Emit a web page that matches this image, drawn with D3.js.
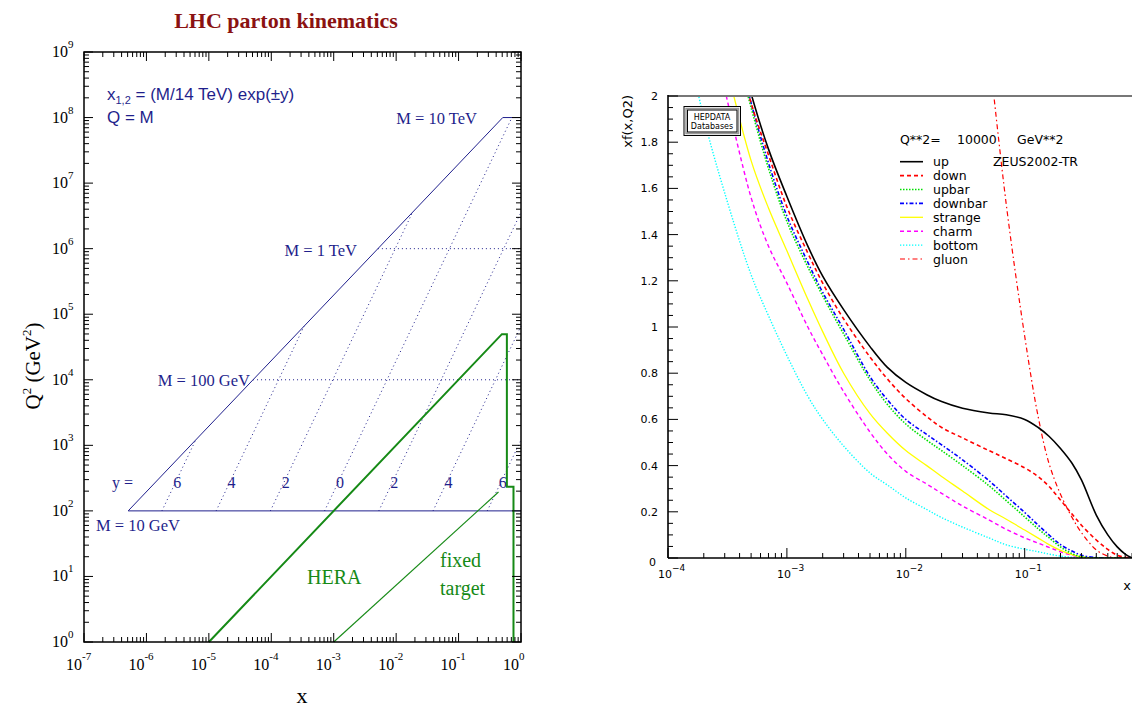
<!DOCTYPE html>
<html>
  <head>
    <script src="https://d3js.org/d3.v7.min.js"></script>
    <style>
      body { margin: 0; background: #fff; }
      .serif { font-family: "Liberation Serif", "Times New Roman", serif; }
      .sans { font-family: "Liberation Sans", Arial, sans-serif; }
      .higz { font-family: "DejaVu Sans", sans-serif; }
    </style>
  </head>
  <body>
    <svg width="1132" height="707"></svg>
    <script>
      // ---------- left panel data (x, Q^2 in GeV^2) ----------
      var rapidities = [-6, -4, -2, 0, 2, 4, 6];
      // constant-rapidity lines: lower end at M = 10 GeV, upper end on the kinematic limit
      var rapX0 = [1.771e-6, 1.308e-5, 9.667e-5, 7.143e-4, 5.278e-3, 0.0390, 0.2882];
      var rapX1 = [6.14e-6, 3.355e-4, 0.018316, 0.7143, 1, 1, 1];
      var rapQ1 = [1204, 6.575e4, 3.590e6, 1e8, 3.590e6, 6.575e4, 1204];
      var massQ2 = [1e2, 1e4, 1e6, 1e8];
      var massXmin = [5.102e-7, 5.102e-5, 5.102e-3, 0.5102];
      var heraX = [1e-5, 0.494, 0.594, 0.594, 0.758, 0.758];
      var heraQ2 = [1, 4.96e4, 4.96e4, 233, 233, 1];
      var fixedX = [1e-3, 0.436];
      var fixedQ2 = [1, 194];

      // ---------- right panel data: xf(x,Q2) at Q2 = 10000 GeV^2 ----------
      var pdfX = [1.5e-4, 2e-4, 3e-4, 5e-4, 7e-4, 1e-3, 1.5e-3, 2e-3, 3e-3, 5e-3, 7e-3, 0.01,
                  0.015, 0.02, 0.03, 0.05, 0.07, 0.1, 0.13, 0.16, 0.2, 0.25, 0.3, 0.4, 0.5, 0.6, 0.7, 0.8];
      var up      = [null, null, 2.45, 2.01, 1.77, 1.565, 1.35, 1.22, 1.075, 0.915, 0.825, 0.76, 0.707, 0.677,
                     0.648, 0.628, 0.62, 0.60, 0.565, 0.527, 0.474, 0.41, 0.338, 0.186, 0.10, 0.048, 0.017, 0.0];
      var down    = [null, null, 2.4, 1.97, 1.745, 1.52, 1.32, 1.19, 1.035, 0.87, 0.775, 0.69, 0.612, 0.565,
                     0.52, 0.465, 0.43, 0.39, 0.352, 0.31, 0.251, 0.19, 0.142, 0.078, 0.037, 0.012, 0.003, 0.0];
      var upbar   = [null, null, 2.4, 1.95, 1.687, 1.457, 1.26, 1.135, 0.97, 0.77, 0.665, 0.58, 0.51, 0.465,
                     0.40, 0.313, 0.248, 0.178, 0.126, 0.088, 0.048, 0.019, 0.005, 0, 0, 0, 0, 0];
      var downbar = [null, null, 2.42, 1.97, 1.71, 1.48, 1.28, 1.15, 0.99, 0.785, 0.685, 0.60, 0.535, 0.49,
                     0.425, 0.335, 0.268, 0.197, 0.142, 0.10, 0.058, 0.03, 0.012, 0.002, 0, 0, 0, 0];
      var strange = [null, 2.55, 2.16, 1.72, 1.515, 1.33, 1.12, 0.98, 0.80, 0.625, 0.54, 0.465, 0.40, 0.353,
                     0.29, 0.21, 0.168, 0.121, 0.086, 0.058, 0.033, 0.015, 0.005, 0, 0, 0, 0, 0];
      var charm   = [null, null, 2.03, 1.56, 1.35, 1.19, 1.0, 0.88, 0.72, 0.545, 0.45, 0.375, 0.32, 0.28,
                     0.225, 0.165, 0.124, 0.087, 0.064, 0.046, 0.027, 0.012, 0.004, 0, 0, 0, 0, 0];
      var bottom  = [2.2, 1.905, 1.58, 1.226, 1.049, 0.876, 0.70, 0.60, 0.485, 0.368, 0.316, 0.26, 0.21, 0.175,
                     0.134, 0.087, 0.057, 0.038, 0.027, 0.017, 0.008, 0.003, 0, 0, 0, 0, 0, 0];
      var gluon   = [null, null, null, null, null, null, null, null, null, null, null, null, null, null,
                     null, 2.2, 1.53, 0.96, 0.61, 0.41, 0.276, 0.176, 0.11, 0.035, 0.008, 0, 0, 0];
      var seriesNames = ["up", "down", "upbar", "downbar", "strange", "charm", "bottom", "gluon"];
      var seriesValues = [up, down, upbar, downbar, strange, charm, bottom, gluon];

      var svg = d3.select("svg");
      var navy = "#1f1f8c";
      var green = "#168a16";

      function logMarks(e0, e1) {
        var out = [];
        for (var e = e0; e < e1; e++)
          for (var m = 1; m < 10; m++) out.push({v: m * Math.pow(10, e), major: m == 1});
        out.push({v: Math.pow(10, e1), major: true});
        return out;
      }

      // ================= LEFT PANEL =================
      var xL = d3.scaleLog().domain([1e-7, 1]).range([84, 521]);
      var yL = d3.scaleLog().domain([1, 1e9]).range([642, 52]);
      var left = svg.append("g");

      left.append("text").attr("class", "serif")
        .attr("x", 286).attr("y", 28).attr("text-anchor", "middle")
        .attr("font-size", 22).attr("font-weight", "bold").attr("fill", "#8b1212")
        .text("LHC parton kinematics");

      var pt = function(x, q) { return [xL(x), yL(q)]; };

      // solid kinematic boundary: M = 10 GeV line, diagonal, M = 10 TeV line
      left.append("path")
        .attr("d", d3.line()([pt(1, massQ2[0]), pt(massXmin[0], massQ2[0]), pt(massXmin[3], massQ2[3]), pt(1, massQ2[3])]))
        .attr("fill", "none").attr("stroke", navy).attr("stroke-width", 1);

      // dotted mass lines (100 GeV, 1 TeV)
      left.selectAll(".mline").data([1, 2]).enter().append("line")
        .attr("x1", function(i) { return xL(massXmin[i]); })
        .attr("x2", xL(1))
        .attr("y1", function(i) { return yL(massQ2[i]); })
        .attr("y2", function(i) { return yL(massQ2[i]); })
        .attr("stroke", navy).attr("stroke-width", 1).attr("stroke-dasharray", "1,3");

      // dotted rapidity lines
      left.selectAll(".rline").data(rapidities).enter().append("line")
        .attr("x1", function(d, i) { return xL(rapX0[i]); })
        .attr("y1", yL(massQ2[0]))
        .attr("x2", function(d, i) { return xL(rapX1[i]); })
        .attr("y2", function(d, i) { return yL(rapQ1[i]); })
        .attr("stroke", navy).attr("stroke-width", 1).attr("stroke-dasharray", "1,3");

      // rapidity labels
      left.append("text").attr("class", "serif").attr("x", 112).attr("y", 488)
        .attr("font-size", 16).attr("fill", navy).text("y =");
      left.selectAll(".rlab").data(rapidities).enter().append("text")
        .attr("class", "serif")
        .attr("x", function(d, i) { return xL(rapX0[i] * 1.58) + 3; })
        .attr("y", 488).attr("text-anchor", "middle")
        .attr("font-size", 16).attr("fill", navy)
        .text(function(d) { return Math.abs(d); });

      // mass labels
      var massLab = [
        {t: "M = 10 GeV", x: 96, y: 531, a: "start"},
        {t: "M = 100 GeV", x: 250, y: 386, a: "end"},
        {t: "M = 1 TeV", x: 357, y: 256, a: "end"},
        {t: "M = 10 TeV", x: 477, y: 124, a: "end"}
      ];
      left.selectAll(".mlab").data(massLab).enter().append("text")
        .attr("class", "serif").attr("x", function(d) { return d.x; }).attr("y", function(d) { return d.y; })
        .attr("text-anchor", function(d) { return d.a; })
        .attr("font-size", 16.5).attr("fill", navy).text(function(d) { return d.t; });

      // formula text
      var f1 = left.append("text").attr("class", "sans").attr("x", 107).attr("y", 100)
        .attr("font-size", 17).attr("fill", navy);
      f1.append("tspan").text("x");
      f1.append("tspan").attr("font-size", 11).attr("dy", 4).text("1,2");
      f1.append("tspan").attr("dy", -4).text(" = (M/14 TeV) exp(\u00b1y)");
      left.append("text").attr("class", "sans").attr("x", 107).attr("y", 123)
        .attr("font-size", 17).attr("fill", navy).text("Q = M");

      // HERA and fixed target
      left.append("path")
        .attr("d", d3.line()(heraX.map(function(x, i) { return pt(x, heraQ2[i]); })))
        .attr("fill", "none").attr("stroke", green).attr("stroke-width", 2);
      left.append("path")
        .attr("d", d3.line()(fixedX.map(function(x, i) { return pt(x, fixedQ2[i]); })))
        .attr("fill", "none").attr("stroke", green).attr("stroke-width", 1.1);
      left.append("text").attr("class", "serif").attr("x", 307).attr("y", 584)
        .attr("font-size", 20).attr("fill", green).text("HERA");
      left.append("text").attr("class", "serif").attr("x", 440).attr("y", 567)
        .attr("font-size", 20).attr("fill", green).text("fixed");
      left.append("text").attr("class", "serif").attr("x", 440).attr("y", 595)
        .attr("font-size", 20).attr("fill", green).text("target");

      // frame and ticks
      left.append("rect").attr("x", 84).attr("y", 52).attr("width", 437).attr("height", 590)
        .attr("fill", "none").attr("stroke", "#000").attr("stroke-width", 1.5);
      var xm = logMarks(-7, 0), ym = logMarks(0, 9);
      left.selectAll(".xtb").data(xm).enter().append("line")
        .attr("x1", function(d) { return xL(d.v); }).attr("x2", function(d) { return xL(d.v); })
        .attr("y1", 642).attr("y2", function(d) { return 642 - (d.major ? 9 : 5); })
        .attr("stroke", "#000");
      left.selectAll(".xtt").data(xm).enter().append("line")
        .attr("x1", function(d) { return xL(d.v); }).attr("x2", function(d) { return xL(d.v); })
        .attr("y1", 52).attr("y2", function(d) { return 52 + (d.major ? 9 : 5); })
        .attr("stroke", "#000");
      left.selectAll(".ytl").data(ym).enter().append("line")
        .attr("y1", function(d) { return yL(d.v); }).attr("y2", function(d) { return yL(d.v); })
        .attr("x1", 84).attr("x2", function(d) { return 84 + (d.major ? 9 : 5); })
        .attr("stroke", "#000");
      left.selectAll(".ytr").data(ym).enter().append("line")
        .attr("y1", function(d) { return yL(d.v); }).attr("y2", function(d) { return yL(d.v); })
        .attr("x1", 521).attr("x2", function(d) { return 521 - (d.major ? 9 : 5); })
        .attr("stroke", "#000");

      // tick labels
      var xe = d3.range(-7, 1), ye = d3.range(0, 10);
      left.selectAll(".xl10").data(xe).enter().append("text").attr("class", "serif")
        .attr("x", function(e) { return xL(Math.pow(10, e)) - 2; }).attr("y", 670)
        .attr("text-anchor", "end").attr("font-size", 16).text("10");
      left.selectAll(".xle").data(xe).enter().append("text").attr("class", "serif")
        .attr("x", function(e) { return xL(Math.pow(10, e)) - 2; }).attr("y", 660)
        .attr("font-size", 11).text(function(e) { return e; });
      left.selectAll(".yl10").data(ye).enter().append("text").attr("class", "serif")
        .attr("x", 68).attr("y", function(e) { return yL(Math.pow(10, e)) + 5; })
        .attr("text-anchor", "end").attr("font-size", 16).text("10");
      left.selectAll(".yle").data(ye).enter().append("text").attr("class", "serif")
        .attr("x", 68).attr("y", function(e) { return yL(Math.pow(10, e)) - 4; })
        .attr("font-size", 11).text(function(e) { return e; });

      // axis titles
      left.append("text").attr("class", "serif").attr("x", 302).attr("y", 703)
        .attr("text-anchor", "middle").attr("font-size", 22).text("x");
      var yt = left.append("text").attr("class", "serif")
        .attr("transform", "translate(40,366) rotate(-90)")
        .attr("text-anchor", "middle").attr("font-size", 21);
      yt.append("tspan").text("Q");
      yt.append("tspan").attr("font-size", 13).attr("dy", -9).text("2");
      yt.append("tspan").attr("dy", 9).text("  (GeV");
      yt.append("tspan").attr("font-size", 13).attr("dy", -9).text("2");
      yt.append("tspan").attr("dy", 9).text(")");

      // ================= RIGHT PANEL =================
      var xR = d3.scaleLog().domain([1e-4, 1]).range([668, 1143.6]);
      var yR = d3.scaleLinear().domain([0, 2]).range([558, 96]);
      var right = svg.append("g");

      svg.append("defs").append("clipPath").attr("id", "clipR")
        .append("rect").attr("x", 669).attr("y", 96).attr("width", 463).attr("height", 462);

      var styles = [
        {c: "#000000", d: null, w: 1.6},
        {c: "#ff0000", d: "4,3", w: 1.6},
        {c: "#00e000", d: "1.5,1.5", w: 1.6},
        {c: "#0000ff", d: "4,2,1.5,2", w: 1.6},
        {c: "#ffff00", d: null, w: 1.3},
        {c: "#ff00ff", d: "4,3", w: 1.4},
        {c: "#00ffff", d: "1.3,1.7", w: 1.4},
        {c: "#ff0000", d: "5,3,1.5,3", w: 1.2}
      ];

      var line = d3.line()
        .defined(function(d) { return d[1] != null; })
        .x(function(d) { return xR(d[0]); })
        .y(function(d) { return yR(d[1]); })
        .curve(d3.curveCatmullRom.alpha(0.5));

      var curves = right.append("g").attr("clip-path", "url(#clipR)");
      // draw in reverse so "up" ends on top
      for (var k = seriesValues.length - 1; k >= 0; k--) {
        curves.append("path")
          .attr("d", line(pdfX.map(function(x, i) { return [x, seriesValues[k][i]]; })))
          .attr("fill", "none").attr("stroke", styles[k].c)
          .attr("stroke-width", styles[k].w)
          .attr("stroke-dasharray", styles[k].d);
      }

      // axes
      right.append("line").attr("x1", 668).attr("x2", 1132).attr("y1", 96).attr("y2", 96)
        .attr("stroke", "#777").attr("stroke-width", 2);
      right.append("line").attr("x1", 668).attr("x2", 668).attr("y1", 95).attr("y2", 558)
        .attr("stroke", "#000").attr("stroke-width", 1.6);
      right.append("line").attr("x1", 668).attr("x2", 1132).attr("y1", 558).attr("y2", 558)
        .attr("stroke", "#000").attr("stroke-width", 1.6);

      var rx = logMarks(-4, 0);
      right.selectAll(".rxt").data(rx).enter().append("line")
        .attr("x1", function(d) { return xR(d.v); }).attr("x2", function(d) { return xR(d.v); })
        .attr("y1", 558).attr("y2", function(d) { return 558 - (d.major ? 10 : 5); })
        .attr("stroke", "#000").attr("stroke-width", 1);
      var ryv = d3.range(0, 41).map(function(i) { return i * 0.05; });
      right.selectAll(".ryt").data(ryv).enter().append("line")
        .attr("y1", function(d) { return yR(d); }).attr("y2", function(d) { return yR(d); })
        .attr("x1", 668).attr("x2", function(d, i) { return 668 + (i % 4 == 0 ? 10 : 5); })
        .attr("stroke", "#000").attr("stroke-width", 1);

      var yTickLabels = ["0", "0.2", "0.4", "0.6", "0.8", "1", "1.2", "1.4", "1.6", "1.8", "2"];
      right.selectAll(".rylab").data(yTickLabels).enter().append("text").attr("class", "higz")
        .attr("x", function(d, i) { return i == 0 ? 656 : 658; })
        .attr("y", function(d, i) { return i == 0 ? yR(0) + 8 : yR(i * 0.2) + 4; })
        .attr("text-anchor", "end").attr("font-size", 11).text(function(d) { return d; });

      var rxe = [-4, -3, -2, -1];
      right.selectAll(".rx10").data(rxe).enter().append("text").attr("class", "higz")
        .attr("x", function(e) { return xR(Math.pow(10, e)) + 4; }).attr("y", 578)
        .attr("text-anchor", "end").attr("font-size", 11).text("10");
      right.selectAll(".rxe").data(rxe).enter().append("text").attr("class", "higz")
        .attr("x", function(e) { return xR(Math.pow(10, e)) + 4; }).attr("y", 571)
        .attr("font-size", 9).text(function(e) { return "\u2212" + Math.abs(e); });

      right.append("text").attr("class", "higz").attr("x", 1127).attr("y", 590)
        .attr("text-anchor", "middle").attr("font-size", 13).text("x");
      right.append("text").attr("class", "higz")
        .attr("transform", "translate(632,95) rotate(-90)")
        .attr("text-anchor", "end").attr("font-size", 13).text("xf(x,Q2)");

      // HEPDATA stamp
      right.append("rect").attr("x", 684).attr("y", 106.5).attr("width", 56.5).attr("height", 29)
        .attr("fill", "#fff").attr("stroke", "#000").attr("stroke-width", 1);
      right.append("rect").attr("x", 686).attr("y", 108.5).attr("width", 52.5).attr("height", 25)
        .attr("fill", "none").attr("stroke", "#999").attr("stroke-width", 1.5);
      right.append("rect").attr("x", 687.5).attr("y", 110).attr("width", 49.5).attr("height", 22)
        .attr("fill", "none").attr("stroke", "#000").attr("stroke-width", 1);
      right.append("text").attr("class", "higz").attr("x", 712).attr("y", 119.5)
        .attr("text-anchor", "middle").attr("font-size", 8).text("HEPDATA");
      right.append("text").attr("class", "higz").attr("x", 712).attr("y", 129)
        .attr("text-anchor", "middle").attr("font-size", 8).text("Databases");

      // legend
      right.append("text").attr("class", "higz").attr("x", 900).attr("y", 144)
        .attr("font-size", 12.5).text("Q**2=");
      right.append("text").attr("class", "higz").attr("x", 957).attr("y", 144)
        .attr("font-size", 12.5).text("10000");
      right.append("text").attr("class", "higz").attr("x", 1017).attr("y", 144)
        .attr("font-size", 12.5).text("GeV**2");
      right.append("text").attr("class", "higz").attr("x", 993).attr("y", 166)
        .attr("font-size", 12.5).text("ZEUS2002-TR");

      var leg = right.selectAll(".leg").data(seriesNames).enter().append("g")
        .attr("transform", function(d, i) { return "translate(0," + (161.7 + i * 13.9) + ")"; });
      leg.append("line").attr("x1", 900).attr("x2", 923).attr("y1", 0).attr("y2", 0)
        .attr("stroke", function(d, i) { return styles[i].c; })
        .attr("stroke-width", function(d, i) { return styles[i].w; })
        .attr("stroke-dasharray", function(d, i) { return styles[i].d; });
      leg.append("text").attr("class", "higz").attr("x", 933).attr("y", 4.5)
        .attr("font-size", 12.5).text(function(d) { return d; });
    </script>
  </body>
</html>
